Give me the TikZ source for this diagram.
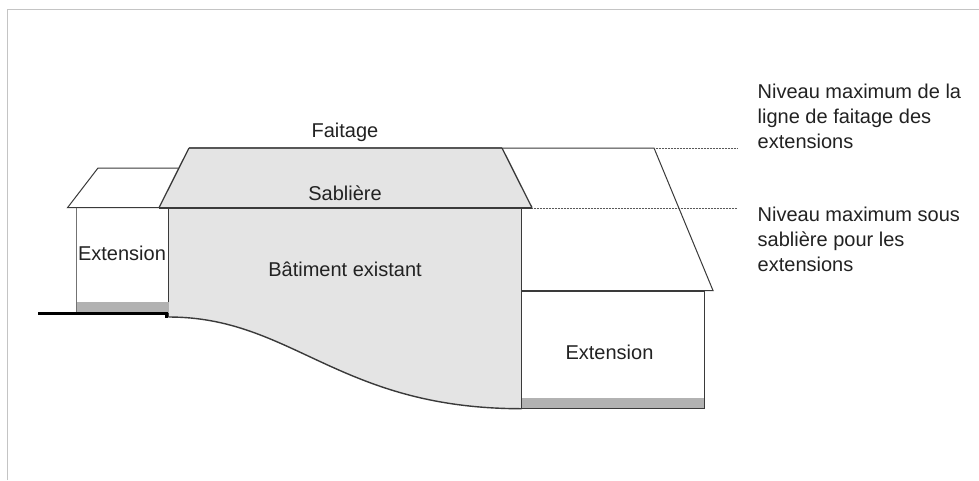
\documentclass[tikz,border=0pt]{standalone}
\usepackage{fontspec}
\setmainfont{Liberation Sans}
\definecolor{inkc}{HTML}{3A3A3A}
\definecolor{txtc}{HTML}{222222}
\definecolor{wallfill}{HTML}{E4E4E4}
\definecolor{stripc}{HTML}{B2B2B2}
\definecolor{framec}{HTML}{C4C4C4}
\tikzset{
  lbl/.style={inner sep=0pt,anchor=base,text=txtc,font=\fontsize{20pt}{25pt}\selectfont},
  sidelbl/.style={lbl,anchor=north west,align=left},
  thinl/.style={draw=inkc,line width=1pt},
  wall/.style={draw=inkc,line width=1.5pt},
  levell/.style={draw=black!65,line width=0.9pt,dash pattern=on 1pt off 0.5pt},
}
\begin{document}
\begin{tikzpicture}[x=1pt,y=-1pt]
\useasboundingbox (0,0) rectangle (979,480);
\fill[white] (0,0) rectangle (979,480);
\draw[framec,line width=1pt] (7.5,480) -- (7.5,9.5) -- (979,9.5);

% main building
\fill[wallfill] (168.5,208) -- (521.7,208) -- (521.7,408.7) .. controls (338,408.7) and (293,317) .. (168.5,317) -- cycle;
\fill[wallfill] (159,207.7) -- (189,148) -- (502,148) -- (532,207.7) -- cycle;
\draw[inkc,line width=1.4pt] (521.7,408.7) .. controls (338,408.7) and (293,317) .. (168.5,317);
\draw[wall] (168.5,207.7) -- (168.5,317);
\draw[wall] (521.7,207.7) -- (521.7,408.7);
\draw[inkc,line width=1.9pt] (159,207.7) -- (532,207.7);
\draw[inkc!85,line width=1.6pt] (189,148) -- (502,148);
\draw[inkc,line width=1.3pt] (159,207.7) -- (189,148);
\draw[inkc,line width=1.3pt] (502,148) -- (532,207.7);

% left extension
\fill[stripc] (76.5,302) rectangle (168.5,313);
\draw[thinl] (159,207.7) -- (67.5,207.7) -- (98,168) -- (178,168);
\draw[draw=black!55,line width=1.1pt] (76.5,207.7) -- (76.5,313);
\draw[black,line width=3pt] (38,313.5) -- (166.8,313.5) -- (166.8,318);

% right extension
\fill[stripc] (521.7,398) rectangle (704.7,408.7);
\draw[thinl] (502,148) -- (654,148) -- (713,290.5) -- (521.7,290.5);
\draw[wall] (521.7,291) -- (704.7,291) -- (704.7,408.7) -- (521.7,408.7);

% level lines
\coordinate (ridgeend) at (654,148);
\coordinate (ridgefree) at (737,148);
\coordinate (eaveend) at (532,208);
\coordinate (eavefree) at (737,208);
\draw[levell] (ridgeend) -- (ridgefree);
\draw[levell] (eaveend) -- (eavefree);

% labels
\node[lbl] (faitage) at (345,137.3) {Faitage};
\node[lbl] (sabliere) at (345,200) {Sablière};
\node[lbl] (batiment) at (345,276.7) {Bâtiment existant};
\node[lbl] (extleft) at (122,260) {Extension};
\node[lbl] (extright) at (609.5,359.3) {Extension};
\node[sidelbl] (maxfaitage) at (757.5,83.4) {Niveau maximum de la\\ligne de faitage des\\extensions};
\node[sidelbl] (maxsabliere) at (757.5,207.1) {Niveau maximum sous\\sablière pour les\\extensions};
\end{tikzpicture}
\end{document}
